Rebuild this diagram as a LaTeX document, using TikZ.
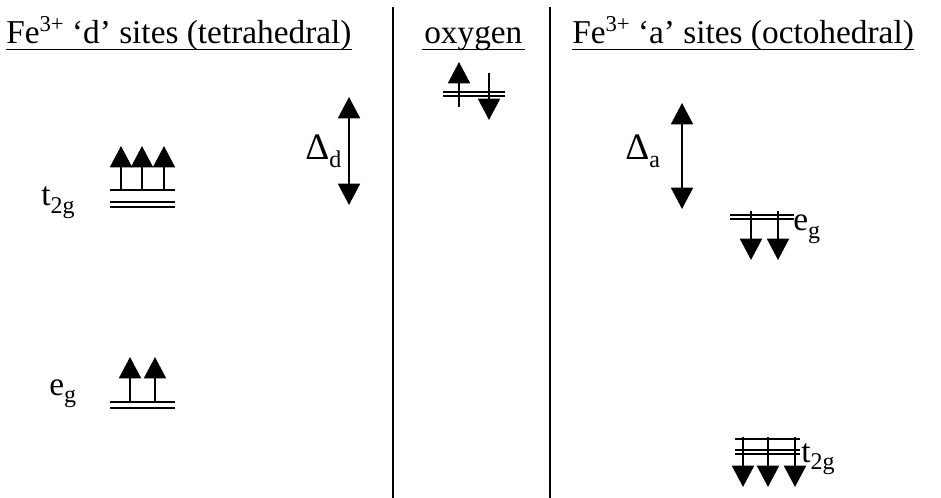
\documentclass[tikz,border=0pt]{standalone}
\usepackage{fontspec}
\setmainfont{Liberation Serif}
\usetikzlibrary{arrows.meta}
\newcommand{\lowsub}[1]{\raisebox{-5.5pt}{\fontsize{18}{20}\selectfont #1}}
\newcommand{\highsup}[1]{\raisebox{9.5pt}{\fontsize{17}{20}\selectfont #1}}
\begin{document}
\begin{tikzpicture}[x=0.75pt,y=-0.75pt,
  lvl/.style={line width=1.6pt},
  ul/.style={line width=1.1pt},
  sep/.style={line width=0.9pt},
  spin/.style={line width=1.4pt,-{Triangle[length=16pt,width=16.5pt]}},
  gap/.style={line width=1.4pt,{Triangle[length=16pt,width=16.5pt]}-{Triangle[length=16pt,width=16.5pt]}},
  lab/.style={inner sep=0pt,font=\fontsize{25}{30}\selectfont},
]
\useasboundingbox (0,0) rectangle (941,498);

% titles
\node[lab,anchor=base west] (t1) at (6,44) {Fe\highsup{3+} `d' sites (tetrahedral)};
\draw[ul] ([yshift=-4pt]t1.base west) -- ([yshift=-4pt]t1.base east);
\node[lab,anchor=base west] (t2) at (424,44) {oxygen};
\draw[ul] ([xshift=-1.5pt,yshift=-4pt]t2.base west) -- ([xshift=1.5pt,yshift=-4pt]t2.base east);
\node[lab,anchor=base west] (t3) at (572,44) {Fe\highsup{3+} `a' sites (octohedral)};
\draw[ul] ([yshift=-4pt]t3.base west) -- ([yshift=-4pt]t3.base east);

% separators
\coordinate (s1a) at (393,7); \coordinate (s1b) at (393,498);
\coordinate (s2a) at (550,7); \coordinate (s2b) at (550,498);
\draw[sep] (s1a) -- (s1b);
\draw[sep] (s2a) -- (s2b);

% d sites t2g
\coordinate (dt1l) at (110,190); \coordinate (dt1r) at (175,190);
\coordinate (dt2l) at (110,202); \coordinate (dt2r) at (175,202);
\coordinate (dt3l) at (110,207); \coordinate (dt3r) at (175,207);
\draw[lvl] (dt1l) -- (dt1r);
\draw[lvl] (dt2l) -- (dt2r);
\draw[lvl] (dt3l) -- (dt3r);
\foreach \x [count=\i] in {121,142,164}{
  \coordinate (dtb\i) at (\x,190); \coordinate (dtt\i) at (\x,146);
  \draw[spin] (dtb\i) -- (dtt\i);
}
\node[lab,anchor=base west] (lt2gd) at (41,206) {t\lowsub{2g}};

% d sites eg
\coordinate (de1l) at (110,402); \coordinate (de1r) at (175,402);
\coordinate (de2l) at (110,408); \coordinate (de2r) at (175,408);
\draw[lvl] (de1l) -- (de1r);
\draw[lvl] (de2l) -- (de2r);
\foreach \x [count=\i] in {130,155}{
  \coordinate (deb\i) at (\x,402); \coordinate (det\i) at (\x,357);
  \draw[spin] (deb\i) -- (det\i);
}
\node[lab,anchor=base west] (legd) at (49,395) {e\lowsub{g}};

% Delta d
\coordinate (gdT) at (349,97); \coordinate (gdB) at (349,205);
\draw[gap] (gdT) -- (gdB);
\node[lab,anchor=base west] (ldd) at (305,160) {{\fontsize{28}{30}\selectfont Δ}\lowsub{d}};

% oxygen
\coordinate (o1l) at (443,92); \coordinate (o1r) at (505,92);
\coordinate (o2l) at (443,96); \coordinate (o2r) at (505,96);
\draw[lvl] (o1l) -- (o1r);
\draw[lvl] (o2l) -- (o2r);
\coordinate (oub) at (459,107); \coordinate (out) at (459,62);
\draw[spin] (oub) -- (out);
\coordinate (odt) at (489,73); \coordinate (odb) at (489,120);
\draw[spin] (odt) -- (odb);

% Delta a
\coordinate (gaT) at (682,103); \coordinate (gaB) at (682,209);
\draw[gap] (gaT) -- (gaB);
\node[lab,anchor=base west] (lda) at (625,160) {{\fontsize{28}{30}\selectfont Δ}\lowsub{a}};

% a sites eg
\coordinate (ae1l) at (730,215); \coordinate (ae1r) at (794,215);
\coordinate (ae2l) at (730,219); \coordinate (ae2r) at (794,219);
\draw[lvl] (ae1l) -- (ae1r);
\draw[lvl] (ae2l) -- (ae2r);
\foreach \x [count=\i] in {751,778}{
  \coordinate (aet\i) at (\x,211); \coordinate (aeb\i) at (\x,260);
  \draw[spin] (aet\i) -- (aeb\i);
}
\node[lab,anchor=base west] (lega) at (793,231) {e\lowsub{g}};

% a sites t2g
\coordinate (at1l) at (735,439); \coordinate (at1r) at (800,439);
\coordinate (at2l) at (735,450); \coordinate (at2r) at (800,450);
\coordinate (at3l) at (735,454); \coordinate (at3r) at (800,454);
\draw[lvl] (at1l) -- (at1r);
\draw[lvl] (at2l) -- (at2r);
\draw[lvl] (at3l) -- (at3r);
\foreach \x [count=\i] in {743,768,795}{
  \coordinate (att\i) at (\x,437); \coordinate (atb\i) at (\x,487);
  \draw[spin] (att\i) -- (atb\i);
}
\node[lab,anchor=base west] (lt2ga) at (801,462) {t\lowsub{2g}};
\end{tikzpicture}
\end{document}
